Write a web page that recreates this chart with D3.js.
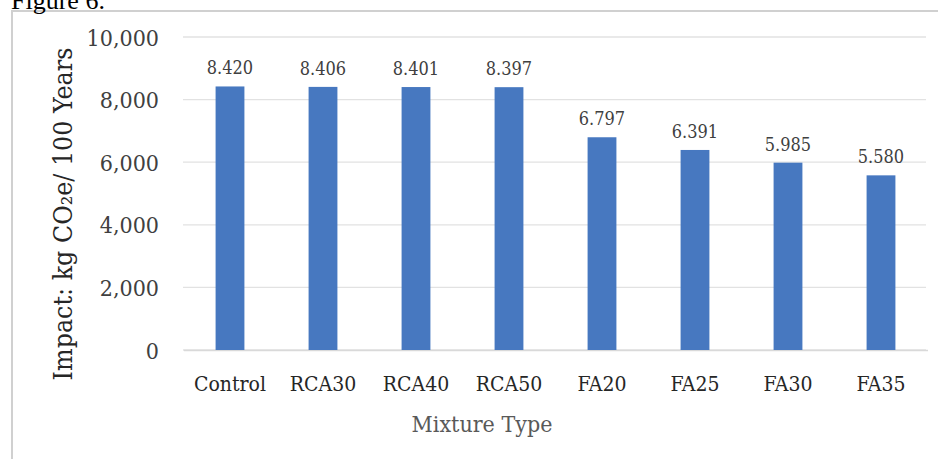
<!DOCTYPE html>
<html><head><meta charset="utf-8">
<script src="https://cdn.jsdelivr.net/npm/d3@7"></script>
<style>html,body{margin:0;padding:0;background:#fff;overflow:hidden}</style>
</head><body>
<svg id="c" width="938" height="459"></svg>
<script>
const categories = ["Control","RCA30","RCA40","RCA50","FA20","FA25","FA30","FA35"];
const values = [8.420, 8.406, 8.401, 8.397, 6.797, 6.391, 5.985, 5.580];
const valueLabels = ["8.420","8.406","8.401","8.397","6.797","6.391","5.985","5.580"];
const yTicks = [0, 2, 4, 6, 8, 10];
const yTickLabels = ["0","2,000","4,000","6,000","8,000","10,000"];

const FONT = "'DejaVu Serif Condensed','DejaVu Serif',serif";
const svg = d3.select("#c");
function serif(sel, size, color) {
  return sel.style("font-family", FONT).style("font-stretch", "condensed")
    .style("font-size", size + "px").attr("fill", color);
}

// frame
svg.append("rect").attr("x", 12).attr("y", 11).attr("width", 940).attr("height", 460)
  .attr("fill", "#fff").attr("stroke", "#d0d0d0").attr("stroke-width", 2);

// caption
svg.append("text").attr("x", 11).attr("y", 9)
  .style("font-family", "'Liberation Serif','Times New Roman',serif")
  .style("font-size", "26px").attr("fill", "#000").text("Figure 6.");

const x = d3.scaleBand().domain(categories).range([183.5, 927.5]).paddingInner(0.69).paddingOuter(0.345);
const y = d3.scaleLinear().domain([0, 10]).range([350, 37]);

// gridlines
svg.append("g").selectAll("line").data(yTicks).join("line")
  .attr("x1", 183).attr("x2", 926)
  .attr("y1", d => y(d)).attr("y2", d => y(d))
  .attr("stroke", "#e2e2e2").attr("stroke-width", 1.3);

// y axis
const yAxis = d3.axisLeft(y).tickValues(yTicks).tickFormat((d, i) => yTickLabels[i]).tickSize(0).tickPadding(0);
const gy = svg.append("g").attr("transform", "translate(159,0)").call(yAxis);
gy.select(".domain").remove();
serif(gy.selectAll("text"), 23, "#404040").attr("dy", "0.35em");

// x axis
const xAxis = d3.axisBottom(x).tickSize(0).tickPadding(0);
const gx = svg.append("g").attr("transform", "translate(0,350)").call(xAxis);
gx.select(".domain").attr("stroke", "#d9d9d9").attr("stroke-width", 1.3);
serif(gx.selectAll("text"), 21, "#262626").attr("y", 41).attr("dy", null);

// bars
svg.append("g").selectAll("rect").data(values).join("rect")
  .attr("x", (d, i) => x(categories[i]))
  .attr("width", x.bandwidth())
  .attr("y", d => y(d))
  .attr("height", d => y(0) - y(d))
  .attr("fill", "#4778c0");

// data labels
serif(svg.append("g").selectAll("text").data(values).join("text"), 18, "#404040")
  .attr("x", (d, i) => x(categories[i]) + x.bandwidth() / 2)
  .attr("y", d => y(d) - 12)
  .attr("text-anchor", "middle")
  .text((d, i) => valueLabels[i]);

// axis titles
serif(svg.append("text"), 26.5, "#262626").attr("transform", "translate(72,214) rotate(-90)")
  .attr("text-anchor", "middle")
  .text("Impact: kg CO₂e/ 100 Years");
serif(svg.append("text"), 23, "#595959").attr("x", 482).attr("y", 432)
  .attr("text-anchor", "middle")
  .text("Mixture Type");
</script>
</body></html>
